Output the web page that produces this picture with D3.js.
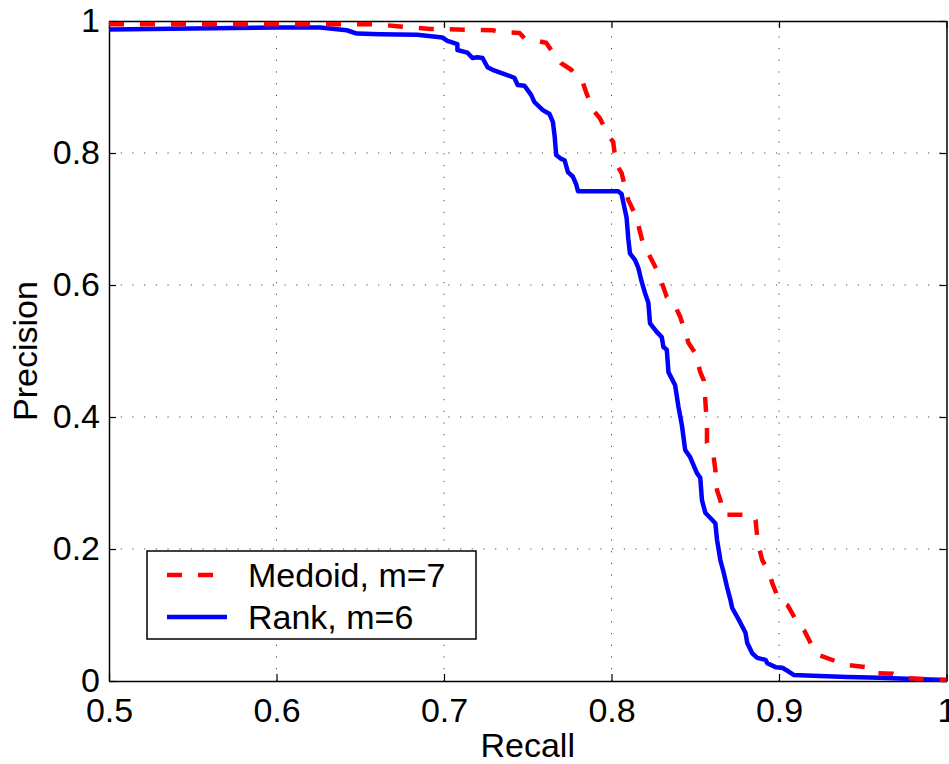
<!DOCTYPE html>
<html><head><meta charset="utf-8">
<script src="https://cdn.jsdelivr.net/npm/d3@7"></script>
<style>body{margin:0;background:#fff}svg{display:block}text{font-family:"Liberation Sans",Arial,Helvetica,sans-serif}</style>
</head><body><svg id="c" width="949" height="764"></svg>
<script>
const xTicks = [0.5, 0.6, 0.7, 0.8, 0.9, 1];
const yTicks = [0, 0.2, 0.4, 0.6, 0.8, 1];
const xTickLabels = ["0.5", "0.6", "0.7", "0.8", "0.9", "1"];
const yTickLabels = ["0", "0.2", "0.4", "0.6", "0.8", "1"];
const seriesNames = ["Medoid, m=7", "Rank, m=6"];
const medoidRecall = [0.5,0.66,0.672,0.692,0.729,0.735,0.745,0.748,0.750,0.761,0.764,0.770,0.776,0.783,0.785,0.789,0.793,0.798,0.801,0.802,0.803,0.806,0.810,0.815,0.816,0.819,0.822,0.827,0.829,0.833,0.837,0.841,0.843,0.846,0.850,0.853,0.855,0.856,0.857,0.857,0.861,0.862,0.863,0.865,0.867,0.884,0.886,0.887,0.888,0.890,0.894,0.896,0.900,0.905,0.906,0.911,0.915,0.920,0.924,0.935,0.942,0.955,0.958,0.968,0.976,0.986,1.0];
const medoidPrecision = [0.995,0.995,0.992,0.988,0.986,0.983,0.982,0.974,0.973,0.967,0.956,0.936,0.926,0.906,0.891,0.865,0.853,0.827,0.817,0.797,0.782,0.770,0.729,0.702,0.691,0.661,0.648,0.623,0.611,0.582,0.573,0.552,0.536,0.512,0.497,0.468,0.456,0.426,0.385,0.361,0.339,0.320,0.289,0.274,0.252,0.252,0.244,0.218,0.203,0.183,0.165,0.148,0.123,0.115,0.111,0.088,0.077,0.052,0.039,0.029,0.024,0.020,0.012,0.011,0.0045,0.003,0.0015];
const rankRecall = [0.5,0.6,0.626,0.642,0.648,0.662,0.684,0.699,0.702,0.708,0.708,0.714,0.717,0.720,0.723,0.726,0.729,0.742,0.744,0.748,0.752,0.754,0.759,0.763,0.765,0.766,0.767,0.770,0.772,0.774,0.777,0.779,0.780,0.804,0.806,0.808,0.809,0.810,0.811,0.814,0.816,0.818,0.820,0.822,0.823,0.827,0.830,0.831,0.833,0.834,0.838,0.840,0.842,0.844,0.847,0.851,0.853,0.854,0.856,0.862,0.863,0.865,0.867,0.869,0.871,0.872,0.877,0.880,0.881,0.884,0.887,0.892,0.893,0.898,0.902,0.906,0.909,0.920,0.941,0.960,0.980,1.0];
const rankPrecision = [0.987,0.990,0.990,0.986,0.981,0.980,0.979,0.975,0.970,0.965,0.956,0.952,0.944,0.945,0.944,0.930,0.926,0.914,0.903,0.902,0.888,0.877,0.865,0.859,0.847,0.827,0.797,0.791,0.789,0.771,0.764,0.752,0.742,0.742,0.738,0.714,0.702,0.671,0.648,0.638,0.626,0.605,0.588,0.573,0.542,0.529,0.521,0.506,0.502,0.468,0.448,0.415,0.388,0.350,0.339,0.315,0.308,0.274,0.255,0.239,0.214,0.183,0.164,0.142,0.123,0.111,0.088,0.073,0.058,0.042,0.035,0.032,0.027,0.021,0.020,0.014,0.009,0.008,0.006,0.005,0.003,0.0015];

const svg = d3.select("#c");
const L = 109, R = 946.5, T = 21, B = 681;
const x = d3.scaleLinear().domain([0.5, 1]).range([L, R]);
const y = d3.scaleLinear().domain([0, 1]).range([B, T]);

// grid
const g = svg.append("g");
xTicks.filter(v => v > 0.5 && v < 1).forEach(v => {
  g.append("line").attr("x1", x(v)).attr("x2", x(v)).attr("y1", B).attr("y2", T)
    .attr("stroke", "#444").attr("stroke-width", 1).attr("stroke-dasharray", "1.2,10.5");
});
yTicks.filter(v => v > 0 && v < 1).forEach(v => {
  g.append("line").attr("x1", L).attr("x2", R).attr("y1", y(v)).attr("y2", y(v))
    .attr("stroke", "#444").attr("stroke-width", 1).attr("stroke-dasharray", "1.2,10.5");
});

// axes (inward ticks on all sides)
const fs = "34px";
const axB = svg.append("g").attr("transform", `translate(0,${B})`)
  .call(d3.axisBottom(x).tickValues(xTicks).tickFormat((d,i) => xTickLabels[i]).tickSizeInner(-7).tickSizeOuter(0).tickPadding(17));
const axL = svg.append("g").attr("transform", `translate(${L},0)`)
  .call(d3.axisLeft(y).tickValues(yTicks).tickFormat((d,i) => yTickLabels[i]).tickSizeInner(-7).tickSizeOuter(0).tickPadding(9));
const axT = svg.append("g").attr("transform", `translate(0,${T})`)
  .call(d3.axisTop(x).tickValues(xTicks).tickFormat("").tickSizeInner(-7).tickSizeOuter(0));
const axR = svg.append("g").attr("transform", `translate(${R},0)`)
  .call(d3.axisRight(y).tickValues(yTicks).tickFormat("").tickSizeInner(-7).tickSizeOuter(0));
[axB, axL, axT, axR].forEach(a => {
  a.selectAll("path").attr("stroke", "#000").attr("stroke-width", 1.5);
  a.selectAll("line").attr("stroke", "#000").attr("stroke-width", 1.2);
  a.selectAll("text").attr("fill", "#000").style("font-size", fs);
});

// lines
const medoid = medoidRecall.map((r, i) => [r, medoidPrecision[i]]);
const rank = rankRecall.map((r, i) => [r, rankPrecision[i]]);
const line = d3.line().x(d => x(d[0])).y(d => y(d[1]));
svg.append("path").datum(rank).attr("d", line).attr("fill", "none")
  .attr("stroke", "#0000ff").attr("stroke-width", 4.5).attr("stroke-linejoin", "round");
svg.append("path").datum(medoid).attr("d", line).attr("fill", "none")
  .attr("stroke", "#ff0000").attr("stroke-width", 4.5).attr("stroke-dasharray", "15,16");

// legend
const lg = svg.append("g");
lg.append("rect").attr("x", 147).attr("y", 551).attr("width", 329).attr("height", 88)
  .attr("fill", "#fff").attr("stroke", "#000").attr("stroke-width", 1.5);
const rows = [{y: 575, base: 587, c: "#ff0000", dash: "15,16"}, {y: 617, base: 629, c: "#0000ff", dash: null}];
rows.forEach((r, i) => {
  lg.append("line").attr("x1", 167).attr("x2", 227).attr("y1", r.y).attr("y2", r.y)
    .attr("stroke", r.c).attr("stroke-width", 4.5).attr("stroke-dasharray", r.dash);
  lg.append("text").attr("x", 248).attr("y", r.base)
    .style("font-size", fs).text(seriesNames[i]);
});

// axis titles
svg.append("text").attr("x", (L + R) / 2).attr("y", 757).attr("text-anchor", "middle")
  .style("font-size", fs).text("Recall");
svg.append("text").attr("transform", `translate(37,${(T + B) / 2}) rotate(-90)`)
  .attr("text-anchor", "middle").style("font-size", fs).text("Precision");
</script></body></html>
